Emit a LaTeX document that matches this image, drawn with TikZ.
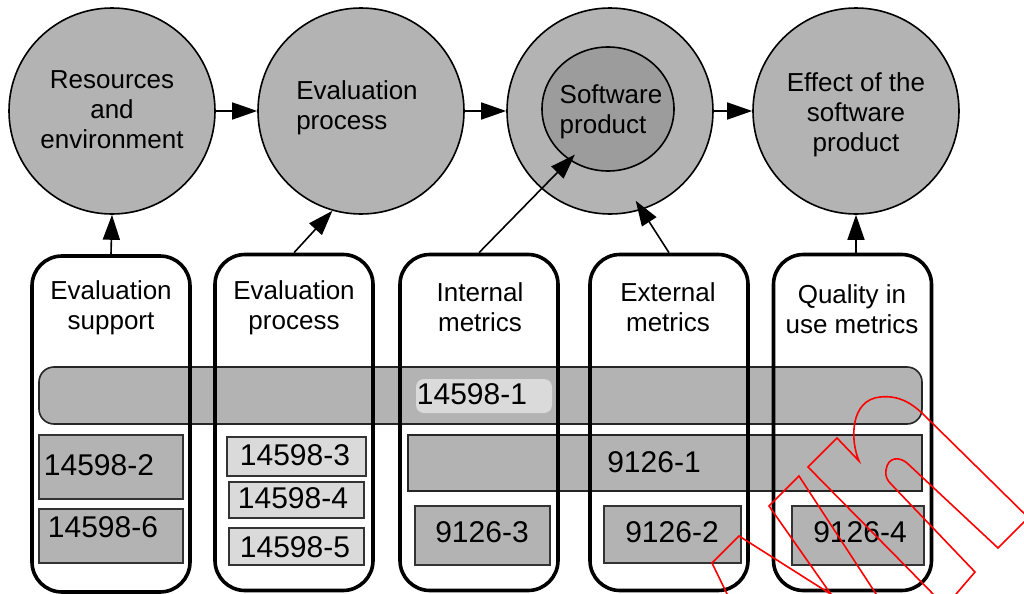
\documentclass[tikz,border=0pt]{standalone}
\usepackage{fontspec}
\setmainfont{Liberation Sans}
\usetikzlibrary{arrows.meta,calc,shapes.geometric}
\definecolor{grayA}{HTML}{B3B3B3}
\definecolor{grayB}{HTML}{9C9C9C}
\definecolor{grayC}{HTML}{DADADA}
\begin{document}
\begin{tikzpicture}[x=0.5pt,y=-0.5pt,
  bigcirc/.style={circle,draw=black,line width=0.8pt,fill=grayA,minimum size=103pt,inner sep=0pt},
  inell/.style={ellipse,draw=black,line width=0.8pt,fill=grayB,minimum width=66pt,minimum height=62pt,inner sep=0pt},
  txt/.style={font=\fontsize{13pt}{15pt}\selectfont,inner sep=0pt},
  num/.style={font=\fontsize{15pt}{17pt}\selectfont,inner sep=0pt},
  arr/.style={-{Triangle[length=12.5pt,width=8.5pt]},line width=0.8pt},
  colbox/.style={draw=black,line width=1.8pt,rounded corners=15pt,minimum width=79pt,minimum height=168pt,inner sep=0pt},
  band/.style={draw=black!85,line width=0.8pt,fill=grayA,inner sep=0pt},
  sbox/.style={draw=black!80,line width=0.8pt,fill=grayA,inner sep=0pt},
  lbox/.style={draw=black!80,line width=0.8pt,fill=grayC,inner sep=0pt},
  wm/.style={draw=red,line width=0.8pt,line join=miter}]
\useasboundingbox (0,0) rectangle (1024,594);
\begin{scope}
\clip (0,0) rectangle (1024,594);
% circles
\node[bigcirc] (c1) at (112,111) {};
\node[bigcirc] (c2) at (361,111) {};
\node[bigcirc] (c3) at (610,111) {};
\node[inell] (ci) at (608,109) {};
\node[bigcirc] (c4) at (856,111) {};
\node[txt,align=center] (t1) at (112,110) {Resources\\and\\environment};
\node[txt,align=left] (t2) at (357,108) {Evaluation\\process};
\node[txt,align=left] (t3) at (611,112) {Software\\product};
\node[txt,align=center] (t4) at (856,115) {Effect of the\\software\\product};
% bands
\node[band,rounded corners=7.5pt,minimum width=441.5pt,minimum height=28.5pt] (band1) at (480.5,395.5) {};
\node[fill=grayC,rounded corners=4pt,minimum width=68pt,minimum height=17pt,inner sep=0pt] (lab1) at (484,396) {};
\node[num] (n1) at (472,394) {14598-1};
\node[band,minimum width=257pt,minimum height=28pt] (band2) at (665,463) {};
\node[num] (n2) at (654,462) {9126-1};
% small boxes
\node[sbox,minimum width=72pt,minimum height=32pt] (s2) at (111,467) {};
\node[num] (n142) at (99,465) {14598-2};
\node[sbox,minimum width=72pt,minimum height=27pt] (s6) at (111,536) {};
\node[num] (n146) at (103,527) {14598-6};
\node[lbox,minimum width=69.5pt,minimum height=19.5pt] (s3) at (296.5,456.5) {};
\node[num] (n143) at (295,455) {14598-3};
\node[lbox,minimum width=67.5pt,minimum height=18pt] (s4) at (296.5,500) {};
\node[num] (n144) at (293,498) {14598-4};
\node[lbox,minimum width=67.5pt,minimum height=18.5pt] (s5) at (296.5,546.5) {};
\node[num] (n145) at (295,547) {14598-5};
\node[sbox,minimum width=67.5pt,minimum height=29.5pt] (q3) at (482.5,535.5) {};
\node[num] (n93) at (482,532) {9126-3};
\node[sbox,minimum width=68.5pt,minimum height=28.5pt] (q2) at (672.5,534.5) {};
\node[num] (n92) at (672,532) {9126-2};
\node[sbox,minimum width=66pt,minimum height=29.5pt] (q4) at (858,535.5) {};
\node[num] (n94) at (860,532) {9126-4};
% column boxes
\node[colbox] (b1) at (111,424) {};
\node[colbox] (b2) at (294,422.5) {};
\node[colbox] (b3) at (479,422.5) {};
\node[colbox] (b4) at (669,422.5) {};
\node[colbox] (b5) at (852.5,422.5) {};
\node[txt,align=center] (h1) at (111,308) {Evaluation\\support};
\node[txt,align=center] (h2) at (294,308) {Evaluation\\process};
\node[txt,align=center] (h3) at (480,307) {Internal\\metrics};
\node[txt,align=center] (h4) at (668,307) {External\\metrics};
\node[txt,align=center] (h5) at (852,309) {Quality in\\use metrics};
% arrows
\draw[arr] (c1.east) -- (c2.west);
\draw[arr] (c2.east) -- (c3.west);
\draw[arr] (c3.east) -- (c4.west);
\draw[arr] (b1.north) -- (c1.south);
\draw[arr] (b2.north) -- (c2.254);
\draw[arr] (b3.north) -- ($(ci.center)!0.88!(ci.234)$);
\draw[arr] (b4.north) -- ($(c3.center)!0.9!(c3.286)$);
\draw[arr] (c4.south |- b5.north) -- (c4.south);
% watermark
\draw[wm] (730,600) -- (712,563) -- (739,536) -- (840,600);
\draw[wm] (835,600) -- (769,506) -- (799,476) -- (880,600);
\draw[wm] (939,600) -- (808,467) -- (837,438) -- (859,461)
  .. controls (850,440) and (850,400) .. (880,397)
  .. controls (900,395) and (912,404) .. (922,413) -- (1045,534);
\draw[wm] (1045,501) -- (998,548) -- (907,463)
  .. controls (900,457) and (888,456) .. (886,470)
  .. controls (885,476) and (887,480) .. (891,484) -- (975,572) -- (951,600);
\end{scope}
\end{tikzpicture}
\end{document}
